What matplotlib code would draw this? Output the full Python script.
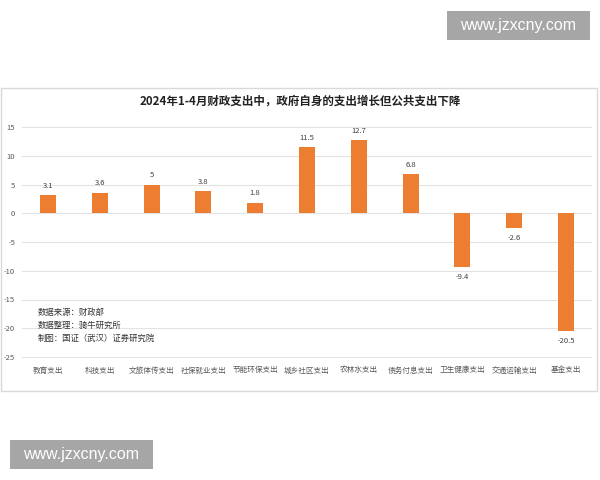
import matplotlib
matplotlib.use("Agg")
import matplotlib.pyplot as plt
from matplotlib.patches import Rectangle

plt.rcParams['font.family'] = ['Noto Sans CJK SC', 'DejaVu Sans']

title = "2024年1-4月财政支出中，政府自身的支出增长但公共支出下降"
categories = ["教育支出", "科技支出", "文旅体传支出", "社保就业支出", "节能环保支出",
              "城乡社区支出", "农林水支出", "债务付息支出", "卫生健康支出", "交通运输支出", "基金支出"]
values = [3.1, 3.6, 5, 3.8, 1.8, 11.5, 12.7, 6.8, -9.4, -2.6, -20.5]
value_labels = ["3.1", "3.6", "5", "3.8", "1.8", "11.5", "12.7", "6.8", "-9.4", "-2.6", "-20.5"]
yticks = [15, 10, 5, 0, -5, -10, -15, -20, -25]
notes = ["数据来源：财政部", "数据整理：骑牛研究所", "制图：国证（武汉）证券研究院"]
watermark = "www.jzxcny.com"

W, H = 600, 480
fig = plt.figure(figsize=(6, 4.8), dpi=100)
fig.patch.set_facecolor("white")

def fx(px): return px / W
def fy(py): return 1 - py / H

# chart frame
fig.patches.append(Rectangle((fx(1), fy(391)), fx(597) - fx(1), fy(88) - fy(391),
                             transform=fig.transFigure, facecolor="white",
                             edgecolor="#D9D9D9", lw=1.0, zorder=-5))

# axes slightly padded so the end gridlines are drawn fully
pad_units = 0.2
px_per_unit = (357 - 127) / 40.0
ax = fig.add_axes([fx(22), fy(357 + pad_units * px_per_unit), fx(592) - fx(22),
                   fy(127 - pad_units * px_per_unit) - fy(357 + pad_units * px_per_unit)])
ax.set_zorder(2)
ax.set_facecolor("none")
x = list(range(len(categories)))
ax.bar(x, values, width=0.31, color="#ED7D31", zorder=3)
ax.set_xlim(-0.5, len(categories) - 0.5)
ax.set_ylim(-25 - pad_units, 15 + pad_units)
ax.set_yticks(yticks)
ax.set_yticklabels([str(v) for v in yticks])
ax.yaxis.grid(True, color="#E3E3E3", lw=0.8, zorder=0)
for s in ax.spines.values():
    s.set_visible(False)
ax.tick_params(axis="both", length=0, labelsize=5.5, colors="#595959")
ax.tick_params(axis="y", pad=5)
ax.set_xticks(x)
ax.set_xticklabels(categories)
ax.tick_params(axis="x", pad=6)

for xi, v, lab in zip(x, values, value_labels):
    if v >= 0:
        ax.annotate(lab, (xi, v), xytext=(0, 4), textcoords="offset points",
                    ha="center", va="bottom", fontsize=5.5, color="#404040")
    else:
        ax.annotate(lab, (xi, v), xytext=(0, -4), textcoords="offset points",
                    ha="center", va="top", fontsize=5.5, color="#404040")

fig.text(0.5, fy(101), title, ha="center", va="center", fontsize=8.3,
         fontweight="bold", color="#222222", zorder=3)

for i, t in enumerate(notes):
    fig.text(fx(38), fy(312 + i * 13), t, ha="left", va="center",
             fontsize=6, color="#333333", zorder=3)

# watermarks
for (x0, y0, x1, y1) in [(447, 11, 590, 40), (10, 440, 153, 469)]:
    fig.patches.append(Rectangle((fx(x0), fy(y1)), fx(x1) - fx(x0), fy(y0) - fy(y1),
                                 transform=fig.transFigure, facecolor="#A6A6A6",
                                 edgecolor="none", zorder=5))
    fig.text(fx((x0 + x1) / 2), fy((y0 + y1) / 2), watermark, ha="center", va="center",
             fontsize=11.5, color="white", family=["Liberation Sans", "DejaVu Sans"], zorder=6)

fig.savefig("out.png", dpi=100)
